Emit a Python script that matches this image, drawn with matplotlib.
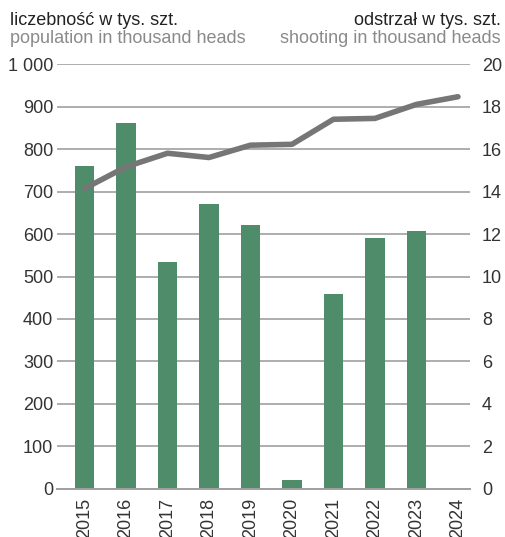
import numpy as np
import matplotlib.pyplot as plt

plt.rcParams['font.family'] = ['Liberation Sans', 'DejaVu Sans']

# dane
lata = ['2015', '2016', '2017', '2018', '2019', '2020', '2021', '2022', '2023', '2024']
liczebnosc = [707, 758, 790, 780, 809, 811, 870, 872, 905, 923]          # tys. szt.
odstrzal = [15.2, 17.22, 10.68, 13.42, 12.44, 0.42, 9.18, 11.82, 12.14, np.nan]  # tys. szt.
lewe_ticki = [0, 100, 200, 300, 400, 500, 600, 700, 800, 900, 1000]
lewe_etykiety = ['0', '100', '200', '300', '400', '500', '600', '700', '800', '900', '1 000']
prawe_ticki = [0, 2, 4, 6, 8, 10, 12, 14, 16, 18, 20]

zielony = '#4f8c6a'
szary_linia = '#767676'
szary_siatka = '#a0a0a0'
tekst = '#333333'
fs = 13

fig = plt.figure(figsize=(5.05, 5.37), dpi=100)
ax2 = fig.add_axes([0.1135, 0.0894, 0.8172, 0.7914])  # słupki - odstrzał (prawa oś)
ax = ax2.twinx()                                       # linia - liczebność (lewa oś)

x = np.arange(len(lata))

# słupki
ax2.bar(x, odstrzal, width=0.46, color=zielony, zorder=2)
ax2.set_ylim(0, 20)
ax2.set_yticks(prawe_ticki)
ax2.yaxis.tick_right()
ax2.yaxis.grid(True, color=szary_siatka, linewidth=1.2, zorder=0)
ax2.set_axisbelow(True)

# linia
ax.plot(x, liczebnosc, color=szary_linia, linewidth=4, solid_capstyle='round',
        solid_joinstyle='round', zorder=3)
ax.set_ylim(0, 1000)
ax.yaxis.tick_left()
ax.set_yticks(lewe_ticki)
ax.set_yticklabels(lewe_etykiety)

for a in (ax, ax2):
    a.set_xlim(-0.655, 9.29)
    for s in a.spines.values():
        s.set_visible(False)
    a.tick_params(axis='y', length=0, labelsize=fs, labelcolor=tekst)
ax.tick_params(axis='y', pad=3)
ax2.tick_params(axis='y', pad=8.5)

ax2.set_xticks(x)
ax2.set_xticklabels(lata, rotation=90, fontsize=fs, color=tekst)
ax2.tick_params(axis='x', length=0, pad=6.5)
ax.tick_params(axis='x', length=0, labelbottom=False)
ax2.spines['bottom'].set_visible(True)
ax2.spines['bottom'].set_color(szary_siatka)
ax2.spines['bottom'].set_linewidth(1.4)

# nagłówki osi
fig.text(0.02, 0.961, 'liczebność w tys. szt.', fontsize=fs, color='#222222', ha='left', va='center')
fig.text(0.02, 0.929, 'population in thousand heads', fontsize=fs, color='#8a8a8a', ha='left', va='center')
fig.text(0.992, 0.961, 'odstrzał w tys. szt.', fontsize=fs, color='#222222', ha='right', va='center')
fig.text(0.992, 0.929, 'shooting in thousand heads', fontsize=fs, color='#8a8a8a', ha='right', va='center')

fig.savefig('out.png', dpi=100)
